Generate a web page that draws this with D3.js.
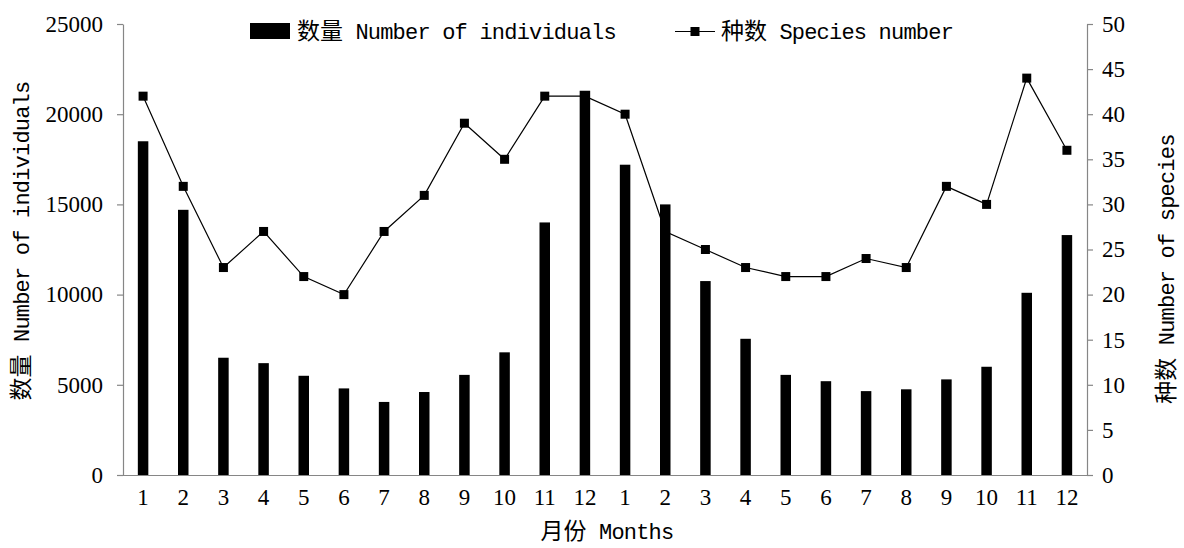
<!DOCTYPE html>
<html>
<head>
<meta charset="utf-8">
<script src="https://cdn.jsdelivr.net/npm/d3@7"></script>
<style>
  html, body { margin: 0; padding: 0; background: #fff; }
  svg { display: block; }
  .num { font-family: "Liberation Serif", "Times New Roman", serif; font-size: 23px; fill: #000; }
  .cjk { font-family: "Noto Sans CJK SC", sans-serif; font-size: 23px; }
  .lat { font-family: "Liberation Mono", monospace; font-size: 22px; letter-spacing: -0.8px; }
</style>
</head>
<body>
<svg id="chart" width="1184" height="548"></svg>
<script>
// Monthly survey: two consecutive years, Jan–Dec each
const monthLabels = ["1","2","3","4","5","6","7","8","9","10","11","12",
                     "1","2","3","4","5","6","7","8","9","10","11","12"];
// 数量 Number of individuals
const individuals = [18500, 14700, 6500, 6200, 5500, 4800, 4050, 4600, 5550, 6800, 14000, 21300,
                     17200, 15000, 10750, 7550, 5550, 5200, 4650, 4750, 5300, 6000, 10100, 13300];
// 种数 Species number
const species = [42, 32, 23, 27, 22, 20, 27, 31, 39, 35, 42, 42,
                 40, 27, 25, 23, 22, 22, 24, 23, 32, 30, 44, 36];
const leftTicks = [0, 5000, 10000, 15000, 20000, 25000];
const rightTicks = [0, 5, 10, 15, 20, 25, 30, 35, 40, 45, 50];

const svg = d3.select("#chart");
const plot = { left: 123, right: 1087, top: 24, bottom: 475 };
const axisColor = "#868686";

const idx = d3.range(monthLabels.length);
const x = d3.scaleBand().domain(idx).range([plot.left, plot.right]).paddingInner(0).paddingOuter(0);
const yL = d3.scaleLinear().domain([0, 25000]).range([plot.bottom, plot.top]);
const yR = d3.scaleLinear().domain([0, 50]).range([plot.bottom, plot.top]);

// Bars
const barW = 10.5;
svg.append("g").selectAll("rect").data(individuals).join("rect")
  .attr("x", (d, i) => x(i) + x.bandwidth() / 2 - barW / 2)
  .attr("y", d => yL(d))
  .attr("width", barW)
  .attr("height", d => yL(0) - yL(d))
  .attr("fill", "#000");

// Axes
function styleAxis(g) {
  g.select(".domain").attr("stroke", axisColor).attr("stroke-width", 1.2);
  g.selectAll(".tick line").attr("stroke", axisColor).attr("stroke-width", 1.2);
  g.selectAll(".tick text").attr("class", "num").attr("font-family", null).attr("font-size", null);
}

const gL = svg.append("g").attr("transform", `translate(${plot.left},0)`)
  .call(d3.axisLeft(yL).tickValues(leftTicks).tickSize(6).tickSizeOuter(0).tickPadding(14).tickFormat(d3.format("d")));
styleAxis(gL);

const gR = svg.append("g").attr("transform", `translate(${plot.right},0)`)
  .call(d3.axisRight(yR).tickValues(rightTicks).tickSize(6).tickSizeOuter(0).tickPadding(9).tickFormat(d3.format("d")));
styleAxis(gR);

const gB = svg.append("g").attr("transform", `translate(0,${plot.bottom})`)
  .call(d3.axisBottom(x).tickSize(0).tickPadding(14).tickFormat(i => monthLabels[i]));
styleAxis(gB);
gB.select(".domain").attr("d", `M${plot.left - 6},0.5H${plot.right}`);

// Species line with square markers
const line = d3.line().x((d, i) => x(i) + x.bandwidth() / 2).y(d => yR(d));
svg.append("path").datum(species).attr("d", line)
  .attr("fill", "none").attr("stroke", "#000").attr("stroke-width", 1.2);
const mk = 9;
svg.append("g").selectAll("rect").data(species).join("rect")
  .attr("x", (d, i) => x(i) + x.bandwidth() / 2 - mk / 2)
  .attr("y", d => yR(d) - mk / 2)
  .attr("width", mk).attr("height", mk).attr("fill", "#000");

// Mixed CJK + Latin label
function label(g, cjk, lat) {
  const t = g.append("text").attr("fill", "#000");
  t.append("tspan").attr("class", "cjk").text(cjk);
  t.append("tspan").attr("class", "lat").text(" " + lat);
  return t;
}

// Legend
const lg = svg.append("g");
lg.append("rect").attr("x", 250).attr("y", 23).attr("width", 40).attr("height", 16).attr("fill", "#000");
label(lg, "数量", "Number of individuals").attr("x", 297).attr("y", 39);
lg.append("line").attr("x1", 675).attr("x2", 715).attr("y1", 31.5).attr("y2", 31.5)
  .attr("stroke", "#000").attr("stroke-width", 1.2);
lg.append("rect").attr("x", 695 - mk / 2).attr("y", 31.5 - mk / 2).attr("width", mk).attr("height", mk).attr("fill", "#000");
label(lg, "种数", "Species number").attr("x", 721).attr("y", 39);

// Axis titles
label(svg, "月份", "Months").attr("x", 607).attr("y", 539).attr("text-anchor", "middle");
label(svg, "数量", "Number of individuals")
  .attr("text-anchor", "middle")
  .attr("transform", "translate(29,241) rotate(-90)");
label(svg, "种数", "Number of species")
  .attr("text-anchor", "middle")
  .attr("transform", "translate(1174,269) rotate(-90)");
</script>
</body>
</html>
